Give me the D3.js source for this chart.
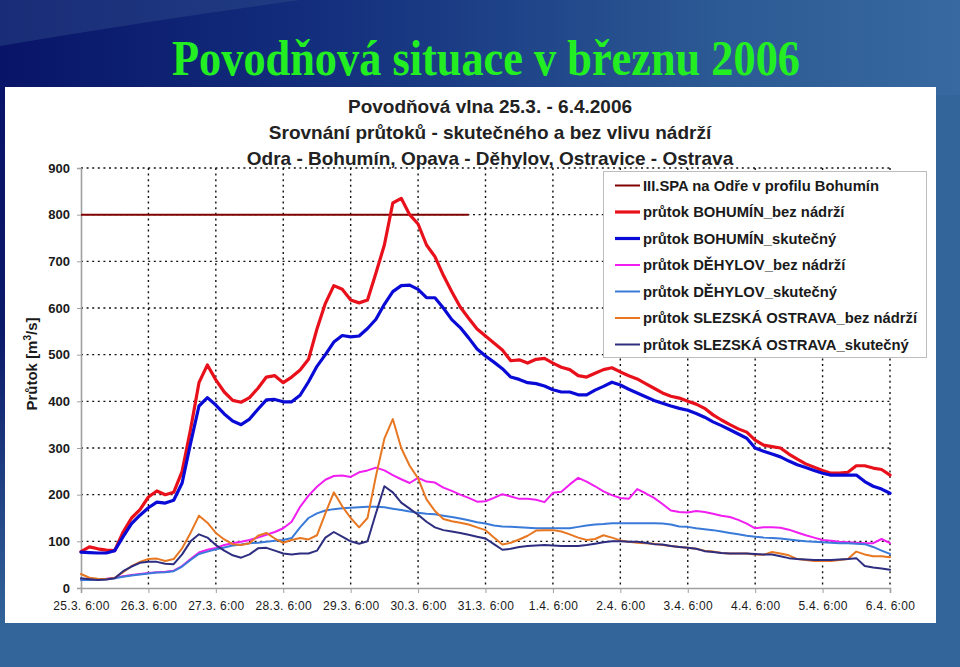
<!DOCTYPE html>
<html><head><meta charset="utf-8">
<script src="https://cdn.jsdelivr.net/npm/d3@7"></script>
<style>body{margin:0;background:#33659a} svg{display:block}</style>
</head><body>
<svg id="c" width="960" height="667"></svg>
<script>
// ---------- DATA ----------
const dayLabels = ["25.3. 6:00","26.3. 6:00","27.3. 6:00","28.3. 6:00","29.3. 6:00","30.3. 6:00","31.3. 6:00","1.4. 6:00","2.4. 6:00","3.4. 6:00","4.4. 6:00","5.4. 6:00","6.4. 6:00"];
const yTicks = [0,100,200,300,400,500,600,700,800,900];
const hours = d3.range(0, 289, 3); // hours since 25.3. 6:00, 3-hour steps

const spaLevel = 800;      // III.SPA na Odře v profilu Bohumín
const spaEndHour = 138;

const bohuminBez = [78,88,84,81,80,120,150,168,195,208, 200,205,250,340,440,478,446,420,402,398, 408,428,452,455,440,452,467,490,555,610, 648,640,617,611,617,675,735,825,835,800, 780,735,710,670,635,602,578,555,540,525, 510,487,489,482,490,492,482,473,468,455, 452,460,468,472,463,455,448,438,428,418, 411,407,400,394,385,371,360,350,341,334, 317,306,303,300,287,276,266,259,252,246, 246,248,262,262,257,254,242];
const bohuminSkut = [77,76,75,75,80,110,138,156,172,184, 182,188,225,310,390,408,392,373,358,350, 362,383,403,404,399,399,413,442,475,500, 527,541,538,540,556,576,608,635,648,649, 640,622,622,600,575,558,536,512,497,484, 470,452,447,440,438,433,425,420,420,414, 414,424,432,441,435,426,418,410,402,396, 390,385,381,374,366,356,348,339,330,321, 300,293,287,281,272,264,258,252,246,242, 242,242,242,228,218,212,203];
const dehylovBez = [18,18,19,20,22,25,28,30,32,34, 35,37,47,62,76,82,86,92,96,99, 103,108,114,120,128,142,174,198,217,232, 240,241,238,248,252,258,252,242,233,225, 236,228,226,215,208,200,193,185,186,193, 201,196,191,191,189,184,204,206,222,236, 228,218,207,199,193,191,212,203,193,180, 166,163,162,165,163,159,155,152,146,138, 128,130,130,129,125,119,113,108,103,101, 99,98,97,96,96,105,96];
const dehylovSkut = [17,17,18,19,21,24,27,29,31,33, 34,36,46,60,73,78,83,87,91,93, 96,97,99,101,103,107,130,150,160,166, 169,171,172,173,174,174,173,170,167,164, 161,159,158,155,152,149,145,141,138,134, 132,131,130,129,128,128,128,128,128,131, 134,136,137,139,139,139,139,139,139,138, 136,132,131,128,126,124,121,118,115,112, 110,108,107,106,104,102,100,99,98,97, 96,96,95,94,88,80,73];
const ostravaBez = [30,22,20,19,22,34,47,56,62,63, 58,62,85,118,155,140,118,104,94,92, 96,112,118,106,97,103,107,104,113,160, 205,175,150,130,150,240,320,362,300,262, 235,190,165,148,143,140,136,130,124,108, 93,97,104,112,123,124,124,121,115,108, 103,105,113,108,102,99,97,96,95,92, 90,88,86,84,80,78,75,74,74,74, 72,71,77,74,70,62,60,58,58,58, 60,62,78,72,68,68,66];
const ostravaSkut = [21,19,17,18,21,36,46,54,56,56, 52,51,72,100,115,108,92,80,70,65, 72,85,86,80,74,72,74,74,80,108, 120,110,100,95,100,160,218,205,183,170, 157,142,130,124,121,118,114,110,106,94, 82,84,88,90,91,92,91,90,90,90, 92,95,98,100,100,99,99,97,94,93, 90,88,86,84,79,77,75,74,74,74, 73,72,72,68,64,62,61,60,60,60, 61,62,64,47,44,42,39];

const seriesNames = ["III.SPA na Odře v profilu Bohumín","průtok BOHUMÍN_bez nádrží","průtok BOHUMÍN_skutečný","průtok DĚHYLOV_bez nádrží","průtok DĚHYLOV_skutečný","průtok SLEZSKÁ OSTRAVA_bez nádrží","průtok SLEZSKÁ OSTRAVA_skutečný"];
const seriesColors = ["#800000","#e8101a","#0a0ad6","#f01ef0","#3a7ad8","#e87722","#2e2e80"];
const seriesWidths = [2,3.2,3.2,2,2,2,2];
const seriesValues = [null,bohuminBez,bohuminSkut,dehylovBez,dehylovSkut,ostravaBez,ostravaSkut];

// ---------- DRAW ----------
const svg = d3.select("#c");
const defs = svg.append("defs");
const g1 = defs.append("linearGradient").attr("id","topg").attr("x1",0).attr("x2",1).attr("y1",0).attr("y2",0);
g1.append("stop").attr("offset","0").attr("stop-color","#081468");
g1.append("stop").attr("offset","0.35").attr("stop-color","#14307e");
g1.append("stop").attr("offset","0.75").attr("stop-color","#2c5a94");
g1.append("stop").attr("offset","1").attr("stop-color","#3869a0");
const g2 = defs.append("linearGradient").attr("id","leftg").attr("x1",0).attr("x2",0).attr("y1",0).attr("y2",1);
g2.append("stop").attr("offset","0").attr("stop-color","#081468");
g2.append("stop").attr("offset","0.45").attr("stop-color","#0c1a6a");
g2.append("stop").attr("offset","1").attr("stop-color","#33659a");

svg.append("rect").attr("width",960).attr("height",667).attr("fill","#33659a");
svg.append("rect").attr("width",960).attr("height",95).attr("fill","url(#topg)");
svg.append("rect").attr("x",0).attr("y",90).attr("width",8).attr("height",540).attr("fill","url(#leftg)");
svg.append("path").attr("d","M0,0 L300,0 Q140,22 0,46 Z").attr("fill","#34528f").attr("opacity",0.4);

// main title
svg.append("text").attr("x",486).attr("y",75).attr("text-anchor","middle")
  .attr("font-family","Liberation Serif, Times New Roman, serif").attr("font-weight","bold")
  .attr("font-size",50).attr("fill","#22ee22")
  .attr("textLength",628).attr("lengthAdjust","spacingAndGlyphs")
  .text("Povodňová situace v březnu 2006");

// white panel
svg.append("rect").attr("x",5).attr("y",87).attr("width",931).attr("height",536).attr("fill","#ffffff");

const font = "Liberation Sans, Arial, sans-serif";
const titles = ["Povodňová vlna 25.3. - 6.4.2006","Srovnání průtoků - skutečného a bez vlivu nádrží","Odra - Bohumín, Opava - Děhylov, Ostravice - Ostrava"];
svg.selectAll("text.sub").data(titles).enter().append("text").attr("class","sub")
  .attr("x",490).attr("y",(d,i)=>113+i*26).attr("text-anchor","middle")
  .attr("font-family",font).attr("font-weight","bold").attr("font-size",19).attr("fill","#222")
  .text(d=>d);

const x = d3.scaleLinear().domain([0,288]).range([81,890]);
const y = d3.scaleLinear().domain([0,900]).range([588,168]);
const dayHours = dayLabels.map((d,i)=>i*24);

// grid
const grid = svg.append("g");
grid.selectAll("line.h").data(yTicks.filter(v=>v>0)).enter().append("line")
  .attr("x1",x(0)).attr("x2",x(288)).attr("y1",d=>y(d)).attr("y2",d=>y(d))
  .attr("stroke","#111").attr("stroke-width",1.4).attr("stroke-dasharray","2,3.6");
grid.selectAll("line.v").data(dayHours.slice(1)).enter().append("line")
  .attr("x1",d=>x(d)).attr("x2",d=>x(d)).attr("y1",y(900)).attr("y2",y(0))
  .attr("stroke","#111").attr("stroke-width",1.4).attr("stroke-dasharray","2,3.6");

// axes
const yAxis = svg.append("g").attr("transform",`translate(${x(0)},0)`)
  .call(d3.axisLeft(y).tickValues(yTicks).tickSize(4).tickPadding(7));
const xAxis = svg.append("g").attr("transform",`translate(0,${y(0)})`)
  .call(d3.axisBottom(x).tickValues(dayHours).tickSize(5).tickPadding(8).tickFormat((d,i)=>dayLabels[i]));
[yAxis,xAxis].forEach(a=>{
  a.select(".domain").attr("stroke","#a0a0a0").attr("stroke-width",1.6);
  a.selectAll(".tick line").attr("stroke","#a0a0a0");
  a.selectAll("text").attr("font-family",font).attr("fill","#1a1a1a").attr("font-size",12);
});
yAxis.selectAll("text").attr("font-weight","bold").attr("font-size",13);
xAxis.selectAll("text").attr("letter-spacing","0.3px");

// y title
const yt = svg.append("text").attr("transform","translate(37,364) rotate(-90)").attr("text-anchor","middle")
  .attr("font-family",font).attr("font-weight","bold").attr("font-size",15).attr("fill","#1a1a1a");
yt.append("tspan").text("Průtok [m");
yt.append("tspan").attr("dy",-6).attr("font-size",10).text("3");
yt.append("tspan").attr("dy",6).text("/s]");

// SPA line
svg.append("line").attr("x1",x(0)).attr("x2",x(spaEndHour)).attr("y1",y(spaLevel)).attr("y2",y(spaLevel))
  .attr("stroke",seriesColors[0]).attr("stroke-width",seriesWidths[0]);

// series
const line = d3.line().x((d,i)=>x(hours[i])).y(d=>y(d));
seriesValues.forEach((vals,k)=>{
  if(!vals) return;
  svg.append("path").datum(vals).attr("d",line).attr("fill","none")
    .attr("stroke",seriesColors[k]).attr("stroke-width",seriesWidths[k])
    .attr("stroke-linejoin","round").attr("stroke-linecap","round");
});

// legend
const lg = svg.append("g");
lg.append("rect").attr("x",603.5).attr("y",171.5).attr("width",323).attr("height",186)
  .attr("fill","#fff").attr("stroke","#bdbdbd").attr("stroke-width",1);
const items = lg.selectAll("g.it").data(seriesNames).enter().append("g").attr("class","it")
  .attr("transform",(d,i)=>`translate(0,${185.5+i*26.5})`);
items.append("line").attr("x1",615).attr("x2",640).attr("y1",0).attr("y2",0)
  .attr("stroke",(d,i)=>seriesColors[i]).attr("stroke-width",(d,i)=>seriesWidths[i]);
items.append("text").attr("x",643).attr("y",5).attr("font-family",font).attr("font-weight","bold")
  .attr("font-size",14.8).attr("fill","#1a1a1a").text(d=>d);
</script>
</body></html>
